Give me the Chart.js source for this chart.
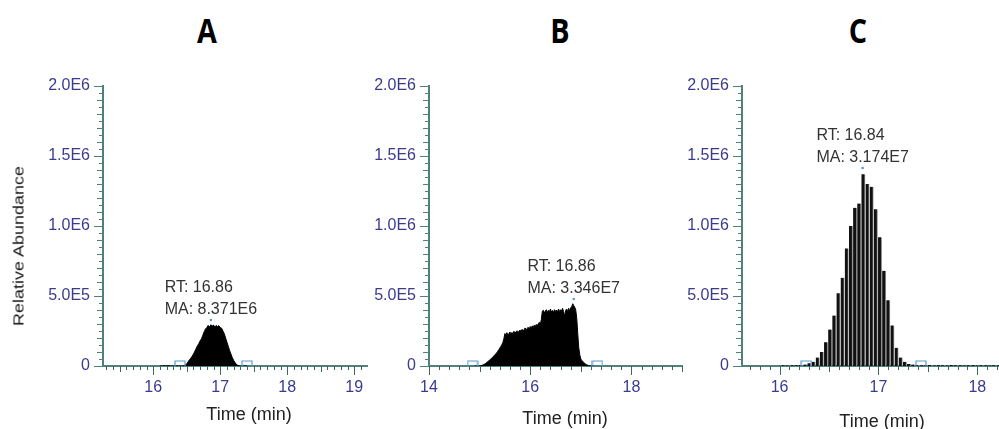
<!DOCTYPE html>
<html><head><meta charset="utf-8">
<script src="https://cdn.jsdelivr.net/npm/chart.js@4.4.1/dist/chart.umd.min.js"></script>
<style>
html,body{margin:0;padding:0;background:#fff;overflow:hidden;width:999px;height:429px;position:relative;}
.panel{position:absolute;top:0;height:429px;}
.lbl{position:absolute;font-family:"Liberation Sans",Arial,sans-serif;color:#222;white-space:nowrap;transform:translate(-50%,-50%);}
.ttl{position:absolute;font-family:"Open Sans",sans-serif;font-weight:700;font-size:32px;color:#000;transform:translate(-50%,-50%) scaleX(0.9) scaleY(1.05);line-height:1;}
</style></head><body>

<div class="ttl" style="left:207px;top:30px">A</div>
<div class="ttl" style="left:560px;top:30px">B</div>
<div class="ttl" style="left:858px;top:30px">C</div>

<div class="panel" style="left:0;width:380px"><canvas id="cA" width="380" height="429"></canvas></div>
<div class="panel" style="left:330px;width:370px"><canvas id="cB" width="370" height="429"></canvas></div>
<div class="panel" style="left:650px;width:420px"><canvas id="cC" width="420" height="429"></canvas></div>

<div class="lbl" style="left:18px;top:246px;font-size:15px;color:#1a1a1a;transform:translate(-50%,-50%) rotate(-90deg) scaleX(1.2);">Relative Abundance</div>
<div class="lbl" style="left:249px;top:414px;font-size:18px;">Time (min)</div>
<div class="lbl" style="left:565px;top:418px;font-size:18px;">Time (min)</div>
<div class="lbl" style="left:882px;top:421px;font-size:18px;">Time (min)</div>

<script>
// ---------- data ----------
const yTickValues = [0, 500000, 1000000, 1500000, 2000000];
const yTickLabels = ['0', '5.0E5', '1.0E6', '1.5E6', '2.0E6'];

// Panel A
const aXTicks = [16, 17, 18, 19];
const aTimes = [16.10,16.14,16.16,16.18,16.22,16.26,16.30,16.34,16.38,16.42,
  16.44,16.46,16.48,16.50,16.52,16.54,16.56,16.58,16.60,16.62,16.64,16.66,16.68,16.70,16.72,16.74,16.76,16.78,16.80,16.82,
  16.84,16.86,16.88,16.90,16.92,16.94,16.96,16.98,17.00,17.02,17.04,17.06,17.08,17.10,17.12,17.14,17.16,17.18,17.20,17.22,
  17.24,17.26,17.28,17.30,17.34,17.40];
const aValues = [0,0,3000,0,2000,0,0,1000,0,0,
  0,2000,8000,15000,30000,45000,55000,70000,85000,105000,125000,145000,160000,180000,195000,220000,245000,265000,275000,290000,
  278000,295000,285000,292000,280000,290000,282000,288000,275000,270000,250000,230000,200000,170000,140000,110000,85000,60000,40000,25000,
  12000,5000,1000,0,0,0];
const aBounds = [16.40, 17.40];
const aApex = [16.86, 329000];
const aNote = ['RT: 16.86', 'MA: 8.371E6'];

// Panel B
const bXTicks = [14, 16, 18];
const bTimes = [14.90,14.96,15.00,15.02,15.04,15.06,15.08,15.10,15.12,15.14,15.16,15.18,15.20,15.22,15.24,15.26,15.28,15.30,15.32,15.34,
  15.36,15.38,15.40,15.42,15.44,15.46,15.48,15.50,15.52,15.54,15.56,15.58,15.60,15.62,15.64,15.66,15.68,15.70,15.72,15.74,
  15.76,15.78,15.80,15.82,15.84,15.86,15.88,15.90,15.92,15.94,15.96,15.98,16.00,16.02,16.04,16.06,16.08,16.10,16.12,16.14,
  16.16,16.18,16.20,16.22,16.24,16.26,16.28,16.30,16.32,16.34,16.36,16.38,16.40,16.42,16.44,16.46,16.48,16.50,16.52,16.54,
  16.56,16.58,16.60,16.62,16.64,16.66,16.68,16.70,16.72,16.74,16.76,16.78,16.80,16.82,16.84,16.86,16.88,16.90,16.92,16.94,
  16.96,16.98,17.00,17.02,17.04,17.06,17.08,17.10,17.12,17.14,17.16,17.18,17.20,17.26];
const bValues = [0,0,0,2000,4000,7000,10000,14000,19000,25000,31000,37000,43000,50000,57000,64000,71000,79000,87000,96000,
  106000,117000,128000,140000,153000,168000,195000,232000,222000,238000,218000,232000,243000,226000,240000,230000,248000,234000,244000,252000,
  238000,250000,257000,244000,262000,250000,260000,272000,258000,268000,277000,260000,282000,268000,287000,273000,292000,280000,297000,286000,
  302000,312000,298000,332000,392000,398000,378000,393000,402000,383000,397000,388000,407000,385000,397000,382000,402000,390000,400000,387000,
  407000,388000,402000,393000,412000,388000,355000,397000,407000,390000,412000,393000,417000,422000,445000,432000,420000,400000,340000,230000,
  130000,80000,50000,40000,32000,25000,18000,12000,8000,5000,3000,1000,0,0];
const bBounds = [14.86, 17.33];
const bApex = [16.86, 479000];
const bNote = ['RT: 16.86', 'MA: 3.346E7'];

// Panel C
const cXTicks = [16, 17, 18];
const cTimes = [16.04,16.08,16.13,16.17,16.21,16.26,16.30,
  16.342,16.384,16.426,16.468,16.510,16.552,16.594,16.636,16.678,16.720,16.762,16.804,16.846,16.888,16.930,16.972,17.014,17.056,17.098,17.140,17.182,17.224,17.266,17.308,17.350,
  17.39,17.44,17.48,17.52,17.57,17.61,17.65,17.70,17.74,17.78,17.83,17.87,17.91,17.96,18.00,18.04,18.09,18.13,18.17,18.22];
const cValues = [5000,4000,6000,5000,8000,10000,20000,
  30000,60000,100000,170000,260000,360000,520000,630000,840000,1000000,1130000,1160000,1370000,1300000,1280000,1120000,920000,680000,470000,290000,130000,60000,30000,15000,10000,
  8000,6000,5000,7000,4000,6000,5000,4000,7000,5000,6000,4000,5000,7000,4000,6000,5000,4000,6000,5000];
const cBounds = [16.27, 17.43];
const cApex = [16.84, 1414000];
const cNote = ['RT: 16.84', 'MA: 3.174E7'];

// ---------- styling ----------
const AXIS = '#4f807c';
const XTICK = '#3f6663';
const TICKC = '#3b3b8e';
const FONT = '"Liberation Sans", Arial, sans-serif';
Chart.defaults.font.family = FONT;

// boundary marker image (open box sitting on baseline)
const boxImg = document.createElement('canvas');
boxImg.width = 12; boxImg.height = 12;
(function(){ const g = boxImg.getContext('2d'); g.strokeStyle = '#5b9bd5'; g.lineWidth = 1.2;
  g.beginPath(); g.moveTo(1, 6.5); g.lineTo(1, 1); g.lineTo(11, 1); g.lineTo(11, 6.5); g.stroke(); })();

function makeTickPlugin(o) {
  return {
    id: 'axisTicks_' + o.key,
    afterDraw(chart) {
      const ctx = chart.ctx, xs = chart.scales.x, ys = chart.scales.y;
      const left = chart.chartArea.left, bottom = chart.chartArea.bottom;
      ctx.save(); ctx.lineWidth = 1;
      ctx.strokeStyle = XTICK;
      const k0 = Math.ceil(o.min / o.minor - 1e-9), k1 = Math.floor(o.max / o.minor + 1e-9);
      for (let k = k0; k <= k1; k++) {
        const v = k * o.minor;
        const isMaj = Math.abs(v / o.major - Math.round(v / o.major)) < 1e-6;
        const isMid = Math.abs(v / o.mid - Math.round(v / o.mid)) < 1e-6;
        const len = isMaj ? 8 : (isMid ? 5 : 3);
        const x = Math.round(xs.getPixelForValue(v)) + 0.5;
        ctx.beginPath(); ctx.moveTo(x, bottom); ctx.lineTo(x, bottom + 1 + len); ctx.stroke();
      }
      ctx.strokeStyle = AXIS;
      for (let i = 0; i <= 40; i++) {
        const y = Math.round(ys.getPixelForValue(i * 50000)) + 0.5;
        const len = i % 10 === 0 ? 8 : (i % 2 === 0 ? 5 : 3);
        ctx.beginPath(); ctx.moveTo(left - 1 - len, y); ctx.lineTo(left, y); ctx.stroke();
      }
      ctx.restore();
    }
  };
}

function makeNotePlugin(o) {
  return {
    id: 'note_' + o.key,
    afterDatasetsDraw(chart) {
      const ctx = chart.ctx, xs = chart.scales.x, ys = chart.scales.y;
      const px = xs.getPixelForValue(o.apex[0]), py = ys.getPixelForValue(o.apex[1]);
      ctx.save();
      ctx.font = '16px ' + FONT; ctx.fillStyle = '#333'; ctx.textBaseline = 'middle'; ctx.textAlign = 'left';
      const w = Math.max(...o.note.map(l => ctx.measureText(l).width));
      const lx = px - w / 2, n = o.note.length;
      o.note.forEach((l, i) => ctx.fillText(l, lx, py - 10 - (n - 1 - i) * 22));
      ctx.restore();
    }
  };
}

function pts(xs, ys) { const n = Math.min(xs.length, ys.length); const r = []; for (let i = 0; i < n; i++) r.push({x: xs[i], y: ys[i]}); return r; }

function makePanel(id, o) {
  const peak = o.bars ? {
      type: 'bar', data: pts(o.times, o.values), backgroundColor: '#111', borderColor: '#8c8c8c',
      borderWidth: {top: 0, right: 1, bottom: 0, left: 0}, borderSkipped: false, barThickness: 3.6, grouped: false, order: 2
    } : {
      type: 'line', data: pts(o.times, o.values), borderColor: '#000', backgroundColor: '#000',
      borderWidth: 1, pointRadius: 0, fill: 'origin', tension: 0, order: 2
    };
  new Chart(document.getElementById(id), {
    type: o.bars ? 'bar' : 'line',
    data: { datasets: [
      peak,
      { type: 'line', data: o.bounds.map(v => ({x: v, y: 0})), showLine: false, pointStyle: boxImg, pointRadius: 6, clip: false, order: 1 },
      { type: 'line', data: [{x: o.apex[0], y: o.apex[1]}], showLine: false, pointRadius: 1.3, pointBackgroundColor: '#5b9bd5', pointBorderWidth: 0, order: 1 }
    ]},
    options: {
      responsive: false, animation: false, events: [],
      layout: { autoPadding: false, padding: { left: 0, top: 86, right: o.padRight, bottom: 0 } },
      plugins: { legend: { display: false }, tooltip: { enabled: false } },
      scales: {
        x: { type: 'linear', min: o.min, max: o.max, offset: false,
          border: { display: true, color: AXIS, width: 2 },
          grid: { display: false, drawTicks: false },
          ticks: { color: TICKC, font: { size: 16, family: FONT }, padding: 12, maxRotation: 0, autoSkip: false,
            callback: v => String(v) },
          afterBuildTicks: s => { s.ticks = o.xticks.map(v => ({value: v})); },
          afterFit: s => { s.height = 63; } },
        y: { type: 'linear', min: 0, max: 2000000,
          border: { display: true, color: AXIS, width: 2 },
          grid: { display: false, drawTicks: false },
          ticks: { color: TICKC, font: { size: 16, family: FONT }, padding: 13,
            callback: v => { const i = yTickValues.indexOf(v); return i >= 0 ? yTickLabels[i] : ''; } },
          afterBuildTicks: s => { s.ticks = yTickValues.map(v => ({value: v})); },
          afterFit: s => { s.width = o.yWidth; } }
      }
    },
    plugins: [makeTickPlugin(o), makeNotePlugin(o)]
  });
}

makePanel('cA', { key: 'A', times: aTimes, values: aValues, bounds: aBounds, apex: aApex, note: aNote, xticks: aXTicks,
  min: 15.25, max: 19.19, yWidth: 103, padRight: 13, minor: 0.1, mid: 0.5, major: 1 });
makePanel('cB', { key: 'B', times: bTimes, values: bValues, bounds: bBounds, apex: bApex, note: bNote, xticks: bXTicks,
  min: 14, max: 19, yWidth: 99, padRight: 18, minor: 0.2, mid: 1, major: 2 });
makePanel('cC', { key: 'C', times: cTimes, values: cValues, bounds: cBounds, apex: cApex, note: cNote, xticks: cXTicks, bars: true,
  min: 15.62, max: 18.3, yWidth: 92, padRight: 63, minor: 0.1, mid: 0.5, major: 1 });
</script>
</body></html>
